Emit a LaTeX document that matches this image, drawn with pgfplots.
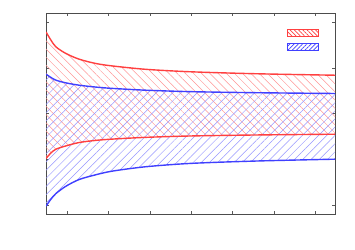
\documentclass[border=0pt]{standalone}
\usepackage{pgfplots}
\pgfplotsset{compat=1.18}
\usepgfplotslibrary{fillbetween}
\usetikzlibrary{patterns.meta}
\definecolor{cred}{rgb}{1,0.25,0.25}
\definecolor{cblue}{rgb}{0.25,0.25,1}
\begin{document}
\begin{tikzpicture}
\begin{axis}[
 scale only axis, width=289pt, height=201pt,
 xmin=0, xmax=7, ymin=-0.2, ymax=4.2,
 xtick={0.52,1.52,2.52,3.52,4.52,5.52,6.52}, ytick={0,1,2,3,4},
 xticklabels={}, yticklabels={},
 tick align=inside, major tick length=3pt,
 tick style={color=black!65, line width=0.6pt},
 axis line style={black!70, line width=0.8pt},
 legend style={draw=none, fill=none, at={(1,1)}, anchor=north east, xshift=-12pt, yshift=-16pt, row sep=6.5pt, inner sep=0pt, font=\tiny},
 legend image code/.code={\draw[#1] (0pt,-3.5pt) rectangle (31pt,3.5pt);},
]
\addplot[name path=ru, cred, line width=1.4pt, smooth, forget plot] table {
0.0   3.786
0.121 3.604
0.242 3.457
0.484 3.313
0.806 3.188
1.211 3.094
1.615 3.040
2.421 2.967
3.511 2.913
5.102 2.870
7.0   2.838
};
\addplot[name path=rl, cred, line width=1.4pt, smooth, forget plot] table {
0.0   1.015
0.121 1.138
0.242 1.219
0.484 1.291
0.806 1.365
1.211 1.412
1.615 1.440
2.421 1.478
3.511 1.508
5.102 1.530
7.0   1.547
};
\addplot[name path=bu, cblue, line width=1.4pt, smooth, forget plot] table {
0.0   2.860
0.121 2.788
0.242 2.729
0.484 2.670
0.806 2.619
1.211 2.578
1.615 2.549
2.421 2.510
3.511 2.478
5.102 2.455
7.0   2.438
};
\addplot[name path=bl, cblue, line width=1.4pt, smooth, forget plot] table {
0.0   -0.028
0.121 0.125
0.242 0.249
0.484 0.409
0.806 0.556
1.211 0.660
1.615 0.740
2.421 0.835
3.511 0.908
5.102 0.960
7.0   1.000
};
\addplot[draw=none, pattern={Lines[angle=-45,distance=5.8pt,line width=0.5pt]}, pattern color=cred!55, forget plot] fill between[of=ru and rl];
\addplot[draw=none, pattern={Lines[angle=45,distance=5.8pt,line width=0.5pt]}, pattern color=cblue!55, forget plot] fill between[of=bu and bl];
\addlegendimage{draw=cred, line width=0.8pt, pattern={Lines[angle=-45,distance=3pt,line width=0.7pt]}, pattern color=cred}
\addlegendentry{}
\addlegendimage{draw=cblue, line width=0.8pt, pattern={Lines[angle=45,distance=3pt,line width=0.7pt]}, pattern color=cblue}
\addlegendentry{}
\end{axis}
\path (current axis.south west) ++(-46pt,-35pt);
\path (current axis.north east) ++(20pt,13pt);
\end{tikzpicture}
\end{document}
